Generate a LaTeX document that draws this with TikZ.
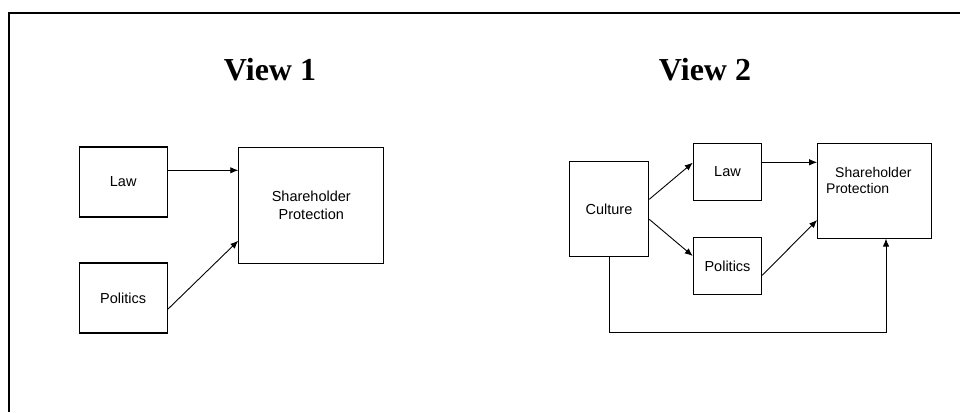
\documentclass[tikz,border=0pt]{standalone}
\usepackage{fontspec}
\setmainfont{Liberation Sans}
\newfontfamily\titlefont{Liberation Serif}
\usetikzlibrary{arrows.meta}

\begin{document}
\begin{tikzpicture}[x=1pt,y=-1pt]

		\tikzset{box/.style = {shape=rectangle,draw,line width=1.1pt,inner sep=0pt,font=\fontsize{14.5}{18}\selectfont,align=center}}
		\tikzset{conn/.style = {-{Latex[length=8pt,width=6.5pt]},line width=0.9pt}}
		\tikzset{title/.style = {font=\titlefont\bfseries\fontsize{32}{36}\selectfont}}

		\useasboundingbox (0,0) rectangle (960,412);
		\draw[line width=2pt] (960,13) -- (9,13) -- (9,412);

		% View 1
		\node[title] (title1) at (270,70) {View 1};
		\node[box,minimum width=88pt,minimum height=70pt] (law1) at (123.2,182) {Law};
		\node[box,minimum width=88pt,minimum height=70pt] (pol1) at (123.2,298) {Politics};
		\node[box,minimum width=145pt,minimum height=116pt] (sp1) at (311.3,205.2) {Shareholder\\Protection};

		\draw[conn] ([yshift=11.7pt]law1.east) -- ([yshift=11.7pt]law1.east -| sp1.west);
		\draw[conn] ([yshift=-11.3pt]pol1.east) -- ([yshift=-35.5pt]sp1.west);

		% View 2
		\node[title] (title2) at (705,70) {View 2};
		\node[box,minimum width=79.4pt,minimum height=95pt] (cult) at (609,209.2) {Culture};
		\node[box,minimum width=68.4pt,minimum height=56.7pt] (law2) at (727.5,171.7) {Law};
		\node[box,minimum width=68.4pt,minimum height=57pt] (pol2) at (727.5,266.2) {Politics};
		\node[box,minimum width=114pt,minimum height=94.7pt] (sp2) at (874.7,190.7) {};
		\node[anchor=north west,inner sep=0pt,align=left,font=\fontsize{14}{16}\selectfont] (sp2text) at (826,167.5) {\hspace{9pt}Shareholder\\Protection};

		\draw[conn] ([yshift=9.9pt]cult.east) -- ([yshift=9pt]law2.west);
		\draw[conn] ([yshift=-10.1pt]cult.east) -- ([yshift=10.2pt]pol2.west);
		\draw[conn] ([yshift=9.4pt]law2.east) -- ([yshift=9.4pt]law2.east -| sp2.west);
		\draw[conn] ([yshift=-9.1pt]pol2.east) -- ([yshift=-29.3pt]sp2.west);
		\draw[conn] (cult.south) -- ++(0,75.6) -| ([xshift=11.3pt]sp2.south);

\end{tikzpicture}
\end{document}
